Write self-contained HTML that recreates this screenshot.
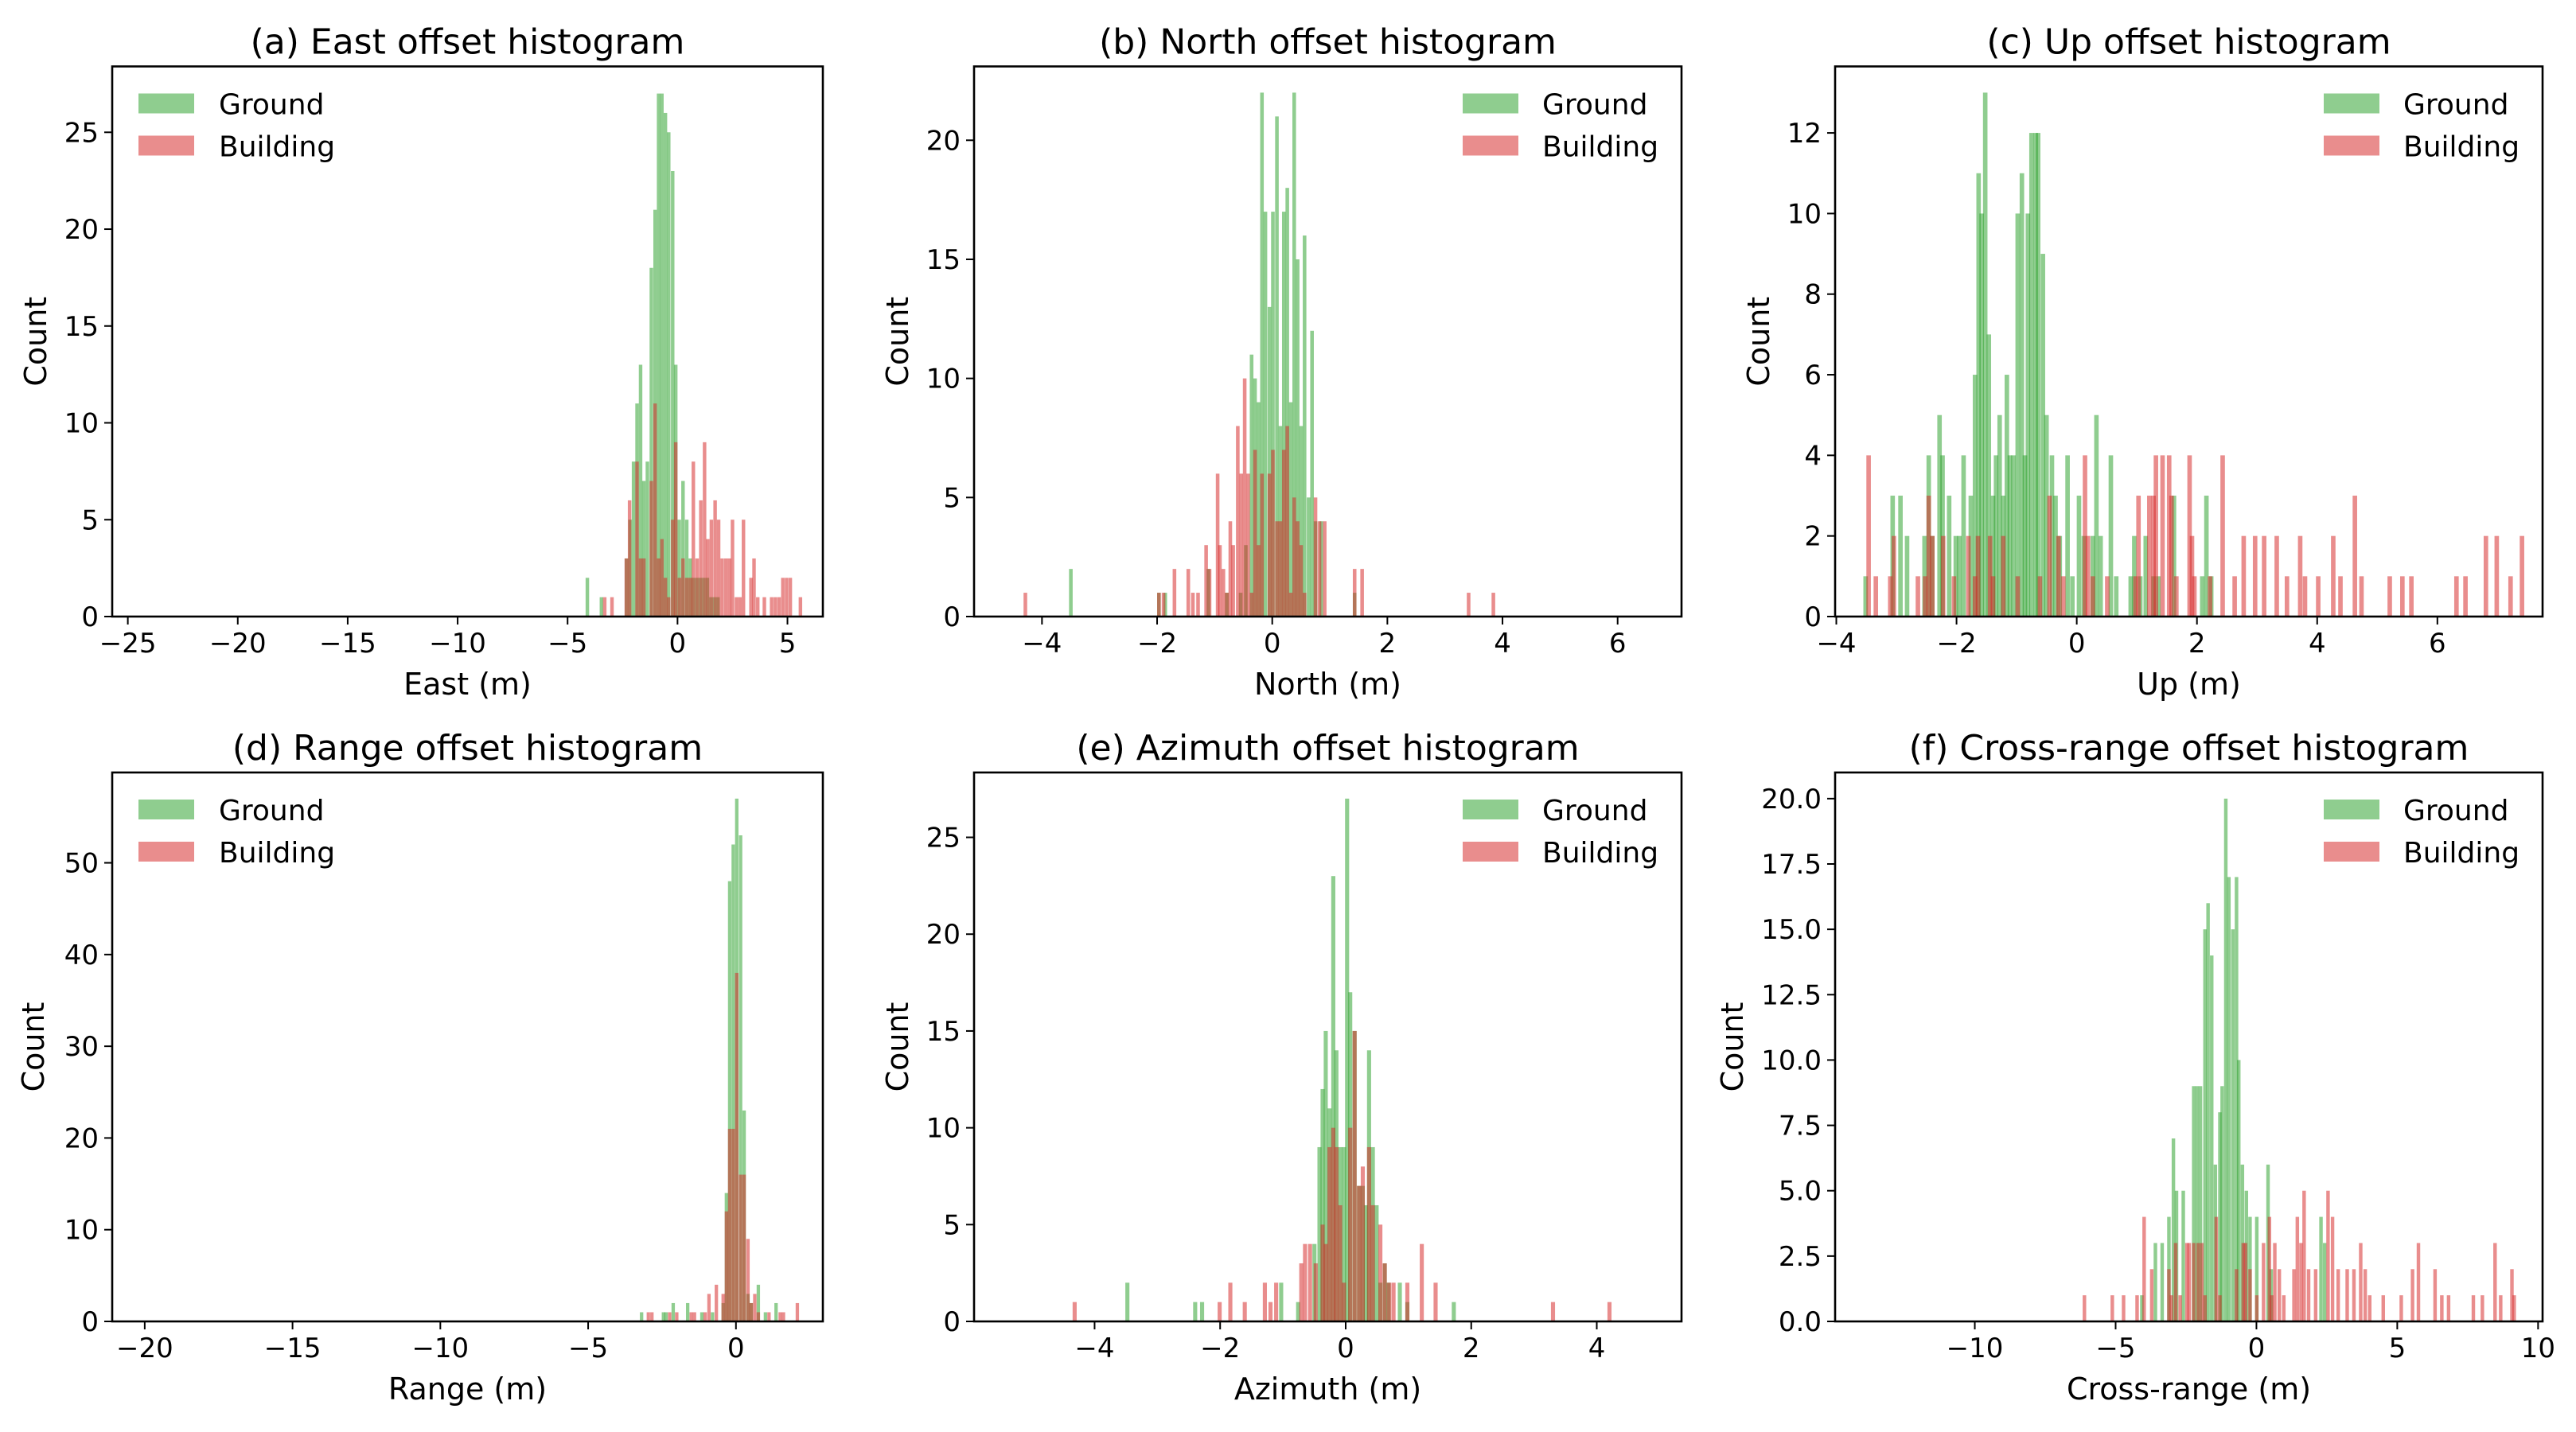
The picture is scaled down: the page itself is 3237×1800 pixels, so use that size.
<!DOCTYPE html>
<html><head><meta charset="utf-8">
<style>
html,body{margin:0;padding:0;background:#fff;}
svg{display:block;font-family:"DejaVu Sans","Liberation Sans",sans-serif;}
</style></head>
<body>
<svg id="fig" width="3237" height="1800" viewBox="0 0 3237 1800" xmlns="http://www.w3.org/2000/svg"></svg>
<script>
// ---------- Panel (a) East ----------
const aGroundX=[-4.18,-3.54,-2.40,-2.24,-2.08,-1.92,-1.76,-1.61,-1.45,-1.27,-1.10,-0.94,-0.79,-0.63,-0.48,-0.30,-0.16,0.0,0.17,0.34,0.50,0.64,0.80,0.96,1.12,1.28,1.44,1.60,1.76];
const aGroundY=[2,1,3,5,8,11,13,7,8,18,21,27,27,26,25,23,13,5,7,5,3,2,2,2,2,2,1,1,1];
const aBuildX=[-3.39,-3.06,-2.41,-2.26,-1.92,-1.76,-1.61,-1.27,-1.10,-0.94,-0.79,-0.63,-0.48,-0.30,-0.16,0.01,0.17,0.34,0.50,0.64,0.81,0.98,1.15,1.30,1.46,1.63,1.79,1.95,2.12,2.28,2.42,2.60,2.76,2.92,3.26,3.40,3.57,3.87,4.20,4.37,4.54,4.71,4.88,5.05,5.51];
const aBuildY=[1,1,3,6,8,3,3,7,11,3,4,2,1,5,9,2,3,2,2,8,3,6,9,4,5,6,5,3,3,3,5,1,1,5,2,3,1,1,1,1,1,2,2,2,1];
// ---------- Panel (b) North ----------
const bGroundX=[-3.53,-2.00,-1.89,-1.14,-0.82,-0.58,-0.49,-0.39,-0.33,-0.27,-0.21,-0.15,-0.08,-0.02,0.05,0.11,0.17,0.23,0.29,0.35,0.41,0.47,0.53,0.60,0.66,0.72,0.82,1.40];
const bGroundY=[2,1,1,2,1,1,3,11,10,9,22,17,13,17,21,8,17,18,9,22,15,8,16,5,12,4,4,1];
const bBuildX=[-4.32,-2.00,-1.92,-1.73,-1.49,-1.41,-1.32,-1.18,-1.12,-0.98,-0.94,-0.88,-0.82,-0.76,-0.71,-0.63,-0.57,-0.51,-0.45,-0.39,-0.33,-0.27,-0.21,-0.08,-0.02,0.05,0.11,0.17,0.23,0.29,0.35,0.41,0.47,0.53,0.72,0.79,0.88,1.40,1.53,3.38,3.81];
const bBuildY=[1,1,1,2,2,1,1,3,2,6,3,2,1,4,3,8,6,10,6,1,7,3,6,6,7,4,4,7,8,1,5,4,3,1,5,4,4,2,2,1,1];
// ---------- Panel (c) Up ----------
const cGroundX=[-3.55,-3.10,-2.97,-2.86,-2.57,-2.50,-2.44,-2.32,-2.27,-2.16,-2.05,-1.99,-1.92,-1.80,-1.73,-1.67,-1.62,-1.56,-1.50,-1.43,-1.38,-1.32,-1.26,-1.20,-1.15,-1.09,-1.02,-0.95,-0.90,-0.85,-0.79,-0.72,-0.68,-0.60,-0.54,-0.45,-0.39,-0.32,-0.19,-0.11,0.0,0.08,0.23,0.29,0.36,0.53,0.62,0.86,0.92,1.02,1.11,1.24,1.32,1.58,2.05,2.12,2.20];
const cGroundY=[1,3,3,2,2,4,2,5,4,3,2,2,4,3,6,11,10,13,7,3,4,5,3,6,4,4,10,11,4,10,12,12,12,9,5,4,3,2,4,1,3,2,2,5,2,4,1,1,2,1,2,1,1,3,1,3,1];
const cBuildX=[-3.50,-3.38,-3.14,-3.08,-2.68,-2.56,-2.50,-2.44,-2.26,-2.08,-1.84,-1.73,-1.68,-1.48,-1.43,-1.26,-1.02,-0.65,-0.49,-0.34,-0.26,0.10,0.15,0.23,0.47,0.94,0.99,1.17,1.24,1.28,1.39,1.50,1.54,1.62,1.84,1.88,1.92,2.18,2.39,2.59,2.74,2.93,3.08,3.29,3.46,3.68,3.76,3.98,4.23,4.35,4.59,4.70,5.17,5.38,5.53,6.28,6.43,6.77,6.95,7.18,7.37];
const cBuildY=[4,1,1,2,1,1,3,2,2,1,2,1,2,2,1,2,1,1,3,2,1,4,2,1,1,1,3,3,3,4,4,4,3,1,4,2,1,1,4,1,2,2,2,2,1,2,1,1,2,1,3,1,1,1,1,1,1,2,2,1,2];
// ---------- Panel (d) Range ----------
const dGroundX=[-3.25,-2.51,-2.42,-2.18,-1.69,-1.21,-0.85,-0.49,-0.38,-0.27,-0.15,-0.03,0.10,0.22,0.35,0.46,0.70,0.94,1.30];
const dGroundY=[1,1,1,2,2,1,1,2,14,48,52,57,53,23,3,2,4,1,2];
const dBuildX=[-3.02,-2.90,-2.30,-2.06,-1.57,-1.46,-1.10,-0.97,-0.72,-0.49,-0.38,-0.27,-0.15,-0.03,0.10,0.22,0.35,0.46,0.58,0.70,1.06,1.44,1.55,2.02];
const dBuildY=[1,1,1,1,1,1,1,3,4,3,12,21,21,38,16,16,9,2,3,1,1,1,1,2];
// ---------- Panel (e) Azimuth ----------
const eGroundX=[-3.51,-2.43,-2.32,-1.06,-0.79,-0.53,-0.45,-0.40,-0.35,-0.29,-0.23,-0.18,-0.12,-0.06,-0.01,0.04,0.11,0.18,0.24,0.29,0.34,0.40,0.46,0.52,0.59,0.65,0.83,0.95,1.69];
const eGroundY=[2,1,1,2,1,4,9,12,15,11,23,14,9,9,27,17,15,7,7,6,14,9,6,2,3,2,2,1,1];
const eBuildX=[-4.35,-2.04,-1.87,-1.64,-1.32,-1.23,-1.14,-0.74,-0.68,-0.60,-0.51,-0.40,-0.35,-0.29,-0.23,-0.18,-0.12,-0.06,0.04,0.11,0.18,0.24,0.34,0.40,0.52,0.59,0.66,0.73,0.95,1.18,1.40,3.27,4.17];
const eBuildY=[1,1,2,1,2,1,2,3,4,4,3,5,4,9,10,9,6,2,10,15,7,8,9,6,5,3,2,2,2,4,2,1,1];
// ---------- Panel (f) Cross-range ----------
const fGroundX=[-4.13,-3.65,-3.41,-3.17,-3.01,-2.90,-2.66,-2.29,-2.17,-2.05,-1.89,-1.78,-1.65,-1.52,-1.36,-1.28,-1.15,-1.04,-0.90,-0.77,-0.69,-0.56,-0.42,-0.29,-0.05,0.35,0.46,2.23,2.36];
const fGroundY=[1,3,3,4,7,5,5,9,9,9,15,16,14,6,8,9,20,17,15,17,10,6,5,4,4,6,2,4,3];
const fBuildX=[-6.17,-5.18,-4.78,-4.30,-4.05,-3.78,-3.17,-3.08,-2.93,-2.77,-2.53,-2.45,-2.29,-2.13,-2.00,-1.89,-1.49,-1.36,-0.77,-0.53,-0.45,-0.29,-0.05,0.19,0.40,0.48,0.59,0.75,0.91,1.27,1.39,1.52,1.63,1.79,2.04,2.48,2.64,2.84,3.16,3.40,3.64,3.80,3.96,4.44,5.08,5.48,5.69,6.28,6.52,6.76,7.64,7.96,8.41,8.61,9.01,9.09];
const fBuildY=[1,1,1,1,4,2,2,1,3,1,3,3,3,3,3,1,4,1,2,3,3,2,1,3,4,1,3,2,1,2,4,3,5,2,2,5,4,2,2,2,3,2,1,1,1,2,3,2,1,1,1,1,3,1,2,1];
// bin widths (data units)
const binWidths=[0.16,0.063,0.075,0.115,0.065,0.125];
// axis domains
const xDomains=[[-25.71,6.61],[-5.18,7.11],[-4.02,7.75],[-21.1,2.94],[-5.92,5.35],[-14.96,10.16]];
const yMaxes=[28.4,23.1,13.65,59.85,28.35,21];
const xTicks=[[-25,-20,-15,-10,-5,0,5],[-4,-2,0,2,4,6],[-4,-2,0,2,4,6],[-20,-15,-10,-5,0],[-4,-2,0,2,4],[-10,-5,0,5,10]];
const yTicks=[[0,5,10,15,20,25],[0,5,10,15,20],[0,2,4,6,8,10,12],[0,10,20,30,40,50],[0,5,10,15,20,25],[0,2.5,5,7.5,10,12.5,15,17.5,20]];
const titles=["(a) East offset histogram","(b) North offset histogram","(c) Up offset histogram","(d) Range offset histogram","(e) Azimuth offset histogram","(f) Cross-range offset histogram"];
const xLabels=["East (m)","North (m)","Up (m)","Range (m)","Azimuth (m)","Cross-range (m)"];
const groundX=[aGroundX,bGroundX,cGroundX,dGroundX,eGroundX,fGroundX];
const groundY=[aGroundY,bGroundY,cGroundY,dGroundY,eGroundY,fGroundY];
const buildX=[aBuildX,bBuildX,cBuildX,dBuildX,eBuildX,fBuildX];
const buildY=[aBuildY,bBuildY,cBuildY,dBuildY,eBuildY,fBuildY];

const NS="http://www.w3.org/2000/svg";
const svg=document.getElementById('fig');
const lefts=[141,1224,2306], rights=[1034,2113,3195];
const tops=[83.5,971], bottoms=[775,1661];
function mk(tag,attrs,parent){const e=document.createElementNS(NS,tag);for(const k in attrs)e.setAttribute(k,attrs[k]);(parent||svg).appendChild(e);return e;}

for(let p=0;p<6;p++){
  const col=p%3,row=Math.floor(p/3);
  const L=lefts[col],R=rights[col],T=tops[row],B=bottoms[row];
  const [x0,x1]=xDomains[p];
  const sx=v=>L+(v-x0)/(x1-x0)*(R-L);
  const sy=v=>B-v/yMaxes[p]*(B-T);
  const g=mk('g',{});
  
  
  const cp=mk('clipPath',{id:'cp'+p},g);
  mk('rect',{x:L,y:T,width:R-L,height:B-T},cp);
  const bars=mk('g',{'clip-path':'url(#cp'+p+')'},g);
  const w=binWidths[p];
  const series=[[groundX[p],groundY[p],'#2ca02c','ground'],[buildX[p],buildY[p],'#d62728','building']];
  for(const [xs,ys,color,nm] of series){
    for(let i=0;i<xs.length;i++){
      const xa=sx(xs[i]),xb=sx(xs[i]+w);
      const r=mk('rect',{x:xa,y:sy(ys[i]),width:Math.max(1,xb-xa),height:B-sy(ys[i]),fill:color,'fill-opacity':0.53},bars);
      
      
    }
  }
  const fr=mk('rect',{x:L,y:T,width:R-L,height:B-T,fill:'none',stroke:'#000','stroke-width':2.6},g);
  
  
  for(const t of xTicks[p]){
    const x=sx(t);
    mk('line',{x1:x,x2:x,y1:B,y2:B+10,stroke:'#000','stroke-width':2},g);
    const tx=mk('text',{x:x,y:B+45,'font-size':34,'text-anchor':'middle'},g);
    tx.textContent=(t<0?'\u2212'+(-t):String(t));
    
    
  }
  for(const t of yTicks[p]){
    const y=sy(t);
    mk('line',{x1:L-10,x2:L,y1:y,y2:y,stroke:'#000','stroke-width':2},g);
    const ty=mk('text',{x:L-17,y:y+12,'font-size':34,'text-anchor':'end'},g);
    ty.textContent=(p===5?t.toFixed(1):String(t));
    
    
  }
  const tt=mk('text',{x:(L+R)/2,y:T-16,'font-size':44,'text-anchor':'middle'},g);
  tt.textContent=titles[p];
  
  
  const xl=mk('text',{x:(L+R)/2,y:B+98,'font-size':38,'text-anchor':'middle'},g);
  xl.textContent=xLabels[p];
  
  
  const yoff=(p===5)?128:(p===3?98:95);
  const yl=mk('text',{x:0,y:0,'font-size':38,'text-anchor':'middle',transform:'translate('+(L-yoff+12)+','+((T+B)/2)+') rotate(-90)'},g);
  yl.textContent='Count';
  
  
  // legend
  const leftLeg=(p===0||p===3);
  const px=leftLeg?L+33:R-275, tx0=leftLeg?L+134:R-175;
  const items=[['Ground','#2ca02c'],['Building','#d62728']];
  items.forEach((it,i)=>{
    const yy=T+34+i*53;
    const pr=mk('rect',{x:px,y:yy,width:70,height:25,fill:it[1],'fill-opacity':0.53},g);
    
    
    const lt=mk('text',{x:tx0,y:yy+26,'font-size':36},g);
    lt.textContent=it[0];
    
    
  });
}
</script>
</body></html>
